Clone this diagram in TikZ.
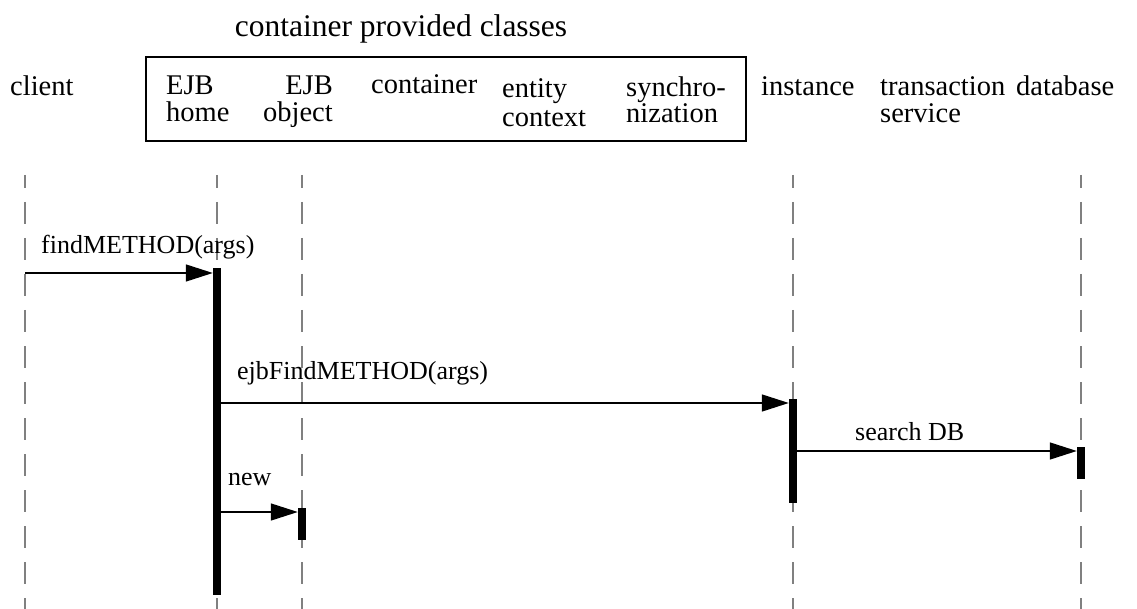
\documentclass[tikz,border=0pt]{standalone}
\usepackage{fontspec}
\setmainfont{Liberation Serif}
\usetikzlibrary{arrows.meta}
\definecolor{lifegray}{RGB}{128,128,128}
\tikzset{
  hdr/.style={inner sep=0pt, font=\fontsize{28.5}{30}\selectfont},
  msglbl/.style={inner sep=0pt, anchor=base west, font=\fontsize{26}{28}\selectfont},
  life/.style={draw=lifegray, line width=1.5pt, dash pattern=on 22pt off 14pt, dash phase=9pt},
  actbar/.style={fill=black, draw=none, inner sep=0pt, minimum width=8pt},
  msg/.style={draw=black, line width=1.4pt, -{Triangle[length=27pt,width=17pt]}},
}
\begin{document}
\begin{tikzpicture}[x=1pt,y=-1pt]
\useasboundingbox (0,0) rectangle (1137,609);

% title and frame
\node[inner sep=0pt, anchor=base, font=\fontsize{31.5}{33}\selectfont] (title) at (401,37) {container provided classes};
\node[draw=black, line width=1.4pt, inner sep=0pt, minimum width=600pt, minimum height=84pt] (frame) at (446,99) {};

% headers
\node[hdr, anchor=base west] (hclient) at (10,96) {client};
\node[hdr, anchor=base west] (hejbh1) at (166,95) {EJB};
\node[hdr, anchor=base west] (hejbh2) at (166,122) {home};
\node[hdr, anchor=base east] (hejbo1) at (333,95) {EJB};
\node[hdr, anchor=base east] (hejbo2) at (333,122) {object};
\node[hdr, anchor=base west] (hcont) at (371,94) {container};
\node[hdr, anchor=base west] (hent1) at (502,98) {entity};
\node[hdr, anchor=base west] (hent2) at (502,127) {context};
\node[hdr, anchor=base west] (hsync1) at (626,97) {synchro-};
\node[hdr, anchor=base west] (hsync2) at (626,123) {nization};
\node[hdr, anchor=base west] (hinst) at (761,96) {instance};
\node[hdr, anchor=base west] (htx1) at (880,96) {transaction};
\node[hdr, anchor=base west] (htx2) at (880,123) {service};
\node[hdr, anchor=base west] (hdb) at (1016,96) {database};

% lifelines
\coordinate (lcT) at (25,175);   \coordinate (lcB) at (25,609);
\coordinate (lhT) at (217,175);  \coordinate (lhB) at (217,609);
\coordinate (loT) at (302,175);  \coordinate (loB) at (302,609);
\coordinate (liT) at (793,175);  \coordinate (liB) at (793,609);
\coordinate (ldT) at (1081,175); \coordinate (ldB) at (1081,609);
\draw[life] (lcT) -- (lcB);
\draw[life] (lhT) -- (lhB);
\draw[life] (loT) -- (loB);
\draw[life] (liT) -- (liB);
\draw[life] (ldT) -- (ldB);

% activation bars
\node[actbar, minimum height=327pt] (barH) at (217,431.5) {};
\node[actbar, minimum height=32pt] (barO) at (302,524) {};
\node[actbar, minimum height=104pt] (barI) at (793,451) {};
\node[actbar, minimum height=32pt] (barD) at (1081,463) {};

% messages
\coordinate (m1s) at (25,273);
\draw[msg] (m1s) -- (m1s -| barH.west);
\node[msglbl] (l1) at (41,254) {findMETHOD(args)};

\coordinate (m2s) at (221,403);
\draw[msg] (m2s -| barH.east) -- (m2s -| barI.west);
\node[msglbl] (l2) at (237,379) {ejbFindMETHOD(args)};

\coordinate (m3s) at (797,451);
\draw[msg] (m3s -| barI.east) -- (m3s -| barD.west);
\node[msglbl] (l3) at (855,440) {search DB};

\coordinate (m4s) at (221,512);
\draw[msg] (m4s -| barH.east) -- (m4s -| barO.west);
\node[msglbl] (l4) at (228,485) {new};
\end{tikzpicture}
\end{document}
